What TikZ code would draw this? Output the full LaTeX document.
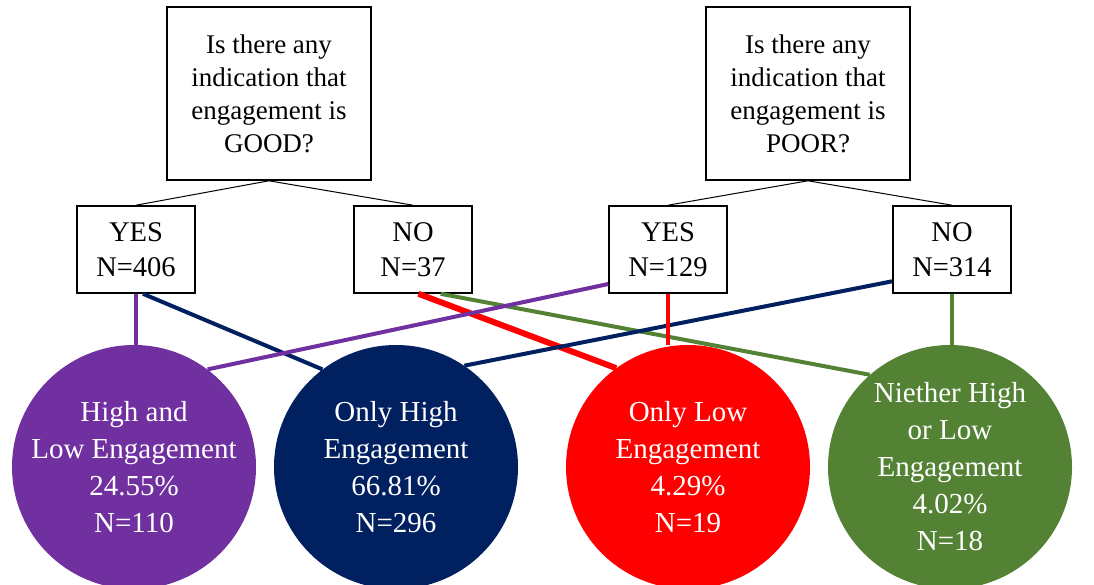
\documentclass[tikz,border=0pt]{standalone}
\usepackage{fontspec}
\setmainfont{Liberation Serif}
\definecolor{cpurple}{HTML}{7030A0}
\definecolor{cnavy}{HTML}{002060}
\definecolor{cred}{HTML}{FF0000}
\definecolor{cgreen}{HTML}{548235}
\begin{document}
\begin{tikzpicture}[x=1pt,y=-1pt,
  qbox/.style={draw=black,line width=1.6pt,minimum width=204pt,minimum height=173pt,inner sep=0pt,align=center,font=\fontsize{27}{33}\selectfont},
  abox/.style={draw=black,line width=1.6pt,minimum width=118pt,minimum height=87pt,inner sep=0pt,align=center,font=\fontsize{28.5}{35}\selectfont},
  res/.style={circle,minimum size=244pt,inner sep=0pt,align=center,text=white,font=\fontsize{29}{37}\selectfont},
  tree/.style={line width=1pt,black},
  link/.style={line width=4pt}
]
\useasboundingbox (0,0) rectangle (1094,585);
% question boxes
\node[qbox] (q1) at (269,93.5) {Is there any\\ indication that\\ engagement is\\ GOOD?};
\node[qbox] (q2) at (808,93.5) {Is there any\\ indication that\\ engagement is\\ POOR?};
% answer boxes
\node[abox] (yesL) at (136,249.5) {YES\\N=406};
\node[abox] (noL) at (413,249.5) {NO\\N=37};
\node[abox] (yesR) at (668,249.5) {YES\\N=129};
\node[abox] (noR) at (952,249.5) {NO\\N=314};
% result circles
\node[res,fill=cpurple] (pC) at (134,467) {High and\\Low Engagement\\24.55\%\\N=110};
\node[res,fill=cnavy] (nC) at (396,467) {Only High\\Engagement\\66.81\%\\N=296};
\node[res,fill=cred] (rC) at (688,467) {Only Low\\Engagement\\4.29\%\\N=19};
\node[res,fill=cgreen] (gC) at (950,467) {Niether High\\or Low\\Engagement\\4.02\%\\N=18};
% tree lines
\draw[tree] (q1.south) -- (yesL.north);
\draw[tree] (q1.south) -- (noL.north);
\draw[tree] (q2.south) -- (yesR.north);
\draw[tree] (q2.south) -- (noR.north);
% colored links
\draw[link,cgreen] (noL.-58) -- (gC.131);
\draw[link,cred,line width=6pt] (noL.-83) -- (rC.126);
\draw[link,cnavy] (yesL.-81) -- (nC.127);
\draw[link,cnavy] (noR.208) -- (nC.56);
\draw[link,cpurple] (yesR.210) -- (pC.53);
\draw[link,cpurple] (yesL.south) -- (yesL.south |- pC.north);
\draw[link,cred] (yesR.south) -- (yesR.south |- rC.north);
\draw[link,cgreen] (noR.south) -- (noR.south |- gC.north);
\end{tikzpicture}
\end{document}
